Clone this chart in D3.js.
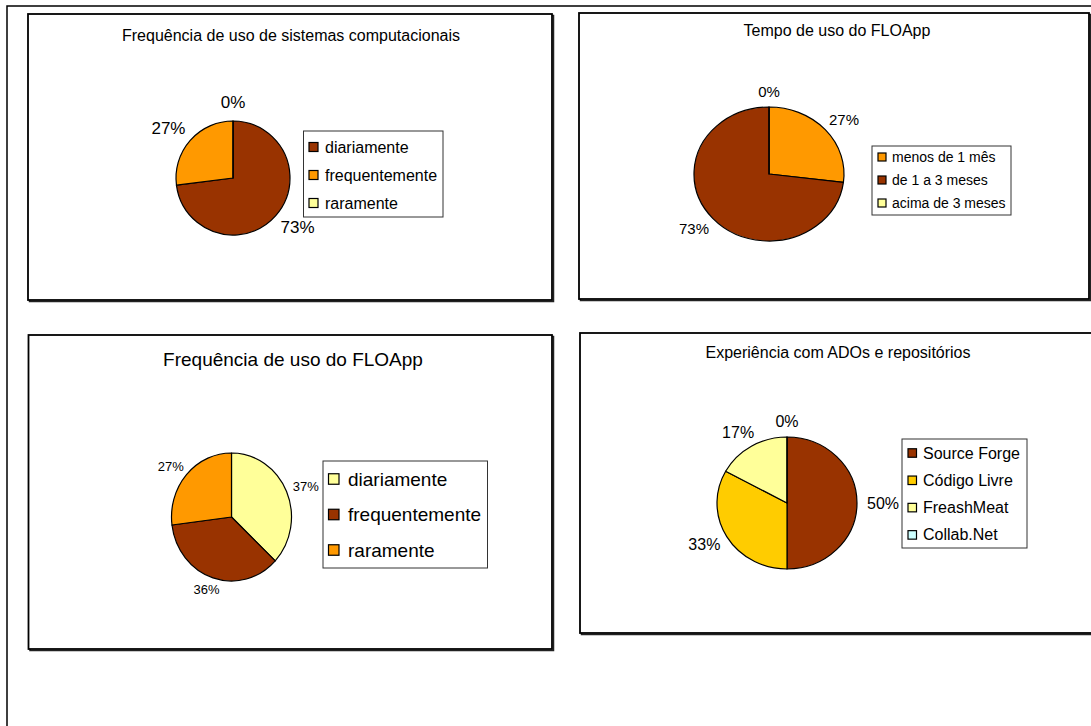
<!DOCTYPE html>
<html>
<head>
<meta charset="utf-8">
<script src="https://cdn.jsdelivr.net/npm/d3@7"></script>
<style>
  html, body { margin: 0; padding: 0; background: #fff; }
  svg { display: block; font-family: "Liberation Sans", Arial, sans-serif; }
</style>
</head>
<body>
<svg id="chart" width="1091" height="726"></svg>
<script>
// ---- data ----
const sistemasTitle = "Frequência de uso de sistemas computacionais";
const sistemasCategories = ["diariamente", "frequentemente", "raramente"];
const sistemasValues = [73, 27, 0];

const tempoTitle = "Tempo de uso do FLOApp";
const tempoCategories = ["menos de 1 mês", "de 1 a 3 meses", "acima de 3 meses"];
const tempoValues = [27, 73, 0];

const freqTitle = "Frequência de uso do FLOApp";
const freqCategories = ["diariamente", "frequentemente", "raramente"];
const freqValues = [37, 36, 27];

const expTitle = "Experiência com ADOs e repositórios";
const expCategories = ["Source Forge", "Código Livre", "FreashMeat", "Collab.Net"];
const expValues = [50, 33, 17, 0];

// ---- palette ----
const BROWN = "#993300", ORANGE = "#FF9900", PALE = "#FFFF99", GOLD = "#FFCC00", CYAN = "#CCFFFF";

// ---- panel layout ----
const panels = [
  {
    title: sistemasTitle, categories: sistemasCategories, values: sistemasValues,
    colors: [BROWN, ORANGE, PALE],
    box: [28, 14, 552, 300],
    titlePos: { x: 291, y: 35, size: 16 },
    pie: { cx: 233, cy: 178, rx: 57, ry: 57 },
    label: { size: 17, pad: 12 },
    legend: { x: 303.5, y: 131, w: 139.5, h: 86, row0: 16, step: 28, swX: 5.5, sw: 9, textX: 21.5, size: 16 }
  },
  {
    title: tempoTitle, categories: tempoCategories, values: tempoValues,
    colors: [ORANGE, BROWN, PALE],
    box: [579, 13, 1089, 299],
    titlePos: { x: 837, y: 30, size: 16 },
    pie: { cx: 769, cy: 174, rx: 75, ry: 67 },
    label: { size: 15, pad: 10 },
    legend: { x: 872, y: 146, w: 139, h: 69, row0: 11, step: 23, swX: 6, sw: 8, textX: 20, size: 14 }
  },
  {
    title: freqTitle, categories: freqCategories, values: freqValues,
    colors: [PALE, BROWN, ORANGE],
    box: [28.5, 335, 552, 649],
    titlePos: { x: 293, y: 359, size: 19 },
    pie: { cx: 231.5, cy: 517, rx: 60, ry: 64 },
    label: { size: 13, pad: 8 },
    legend: { x: 323, y: 461, w: 164.5, h: 107, row0: 18, step: 35.5, swX: 5.5, sw: 10.5, textX: 25, size: 19 }
  },
  {
    title: expTitle, categories: expCategories, values: expValues,
    colors: [BROWN, GOLD, PALE, CYAN],
    box: [580, 333, 1096, 633],
    titlePos: { x: 838, y: 352, size: 16 },
    pie: { cx: 787, cy: 503, rx: 70, ry: 66 },
    label: { size: 16, pad: 10 },
    legend: { x: 902, y: 439, w: 125, h: 109, row0: 14, step: 27.3, swX: 6, sw: 8.5, textX: 21, size: 16 }
  }
];

const svg = d3.select("#chart");

// page frame (top and left rules)
svg.append("path")
  .attr("d", "M7,726 V6 H1091")
  .attr("fill", "none").attr("stroke", "#000").attr("stroke-width", 1.5);

const pie = d3.pie().sort(null).value(d => d.value);

panels.forEach(p => {
  const g = svg.append("g");
  const [x0, y0, x1, y1] = p.box;

  // chart area border with a thin drop shadow
  g.append("rect")
    .attr("x", x0 + 1.5).attr("y", y0 + 1.5)
    .attr("width", x1 - x0).attr("height", y1 - y0)
    .attr("fill", "none").attr("stroke", "#222").attr("stroke-width", 1.5);
  g.append("rect")
    .attr("x", x0).attr("y", y0)
    .attr("width", x1 - x0).attr("height", y1 - y0)
    .attr("fill", "#fff").attr("stroke", "#000").attr("stroke-width", 1.8);

  // title
  g.append("text")
    .attr("x", p.titlePos.x).attr("y", p.titlePos.y)
    .attr("text-anchor", "middle").attr("dominant-baseline", "central")
    .attr("font-size", p.titlePos.size).attr("fill", "#000")
    .text(p.title);

  const data = p.categories.map((c, i) => ({ name: c, value: p.values[i], color: p.colors[i] }));
  const arcs = pie(data);
  const arc = d3.arc().innerRadius(0).outerRadius(p.pie.ry);

  // slices (drawn on a circle, then stretched horizontally into the ellipse)
  const pg = g.append("g")
    .attr("transform", `translate(${p.pie.cx},${p.pie.cy}) scale(${p.pie.rx / p.pie.ry},1)`);
  pg.selectAll("path")
    .data(arcs)
    .join("path")
    .attr("d", arc)
    .attr("fill", d => d.data.color)
    .attr("stroke", "#000")
    .attr("stroke-width", 1.2)
    .attr("stroke-linejoin", "round")
    .attr("vector-effect", "non-scaling-stroke");

  // percentage labels outside the rim
  arcs.forEach(a => {
    const mid = (a.startAngle + a.endAngle) / 2;
    const s = Math.sin(mid), c = Math.cos(mid);
    const t = g.append("text")
      .attr("text-anchor", "middle").attr("dominant-baseline", "central")
      .attr("font-size", p.label.size).attr("fill", "#000")
      .text(a.data.value + "%");
    const w = t.node().getComputedTextLength();
    const h = p.label.size * 0.72;
    const lx = p.pie.cx + s * (p.pie.rx + p.label.pad) + s * w / 2;
    const ly = p.pie.cy - c * (p.pie.ry + p.label.pad) - c * h / 2;
    t.attr("x", lx).attr("y", ly);
  });

  // legend
  const L = p.legend;
  const lg = g.append("g").attr("transform", `translate(${L.x},${L.y})`);
  lg.append("rect")
    .attr("width", L.w).attr("height", L.h)
    .attr("fill", "#fff").attr("stroke", "#333").attr("stroke-width", 1);
  const rows = lg.selectAll("g.row")
    .data(data)
    .join("g")
    .attr("class", "row")
    .attr("transform", (d, i) => `translate(0,${L.row0 + i * L.step})`);
  rows.append("rect")
    .attr("x", L.swX).attr("y", -L.sw / 2)
    .attr("width", L.sw).attr("height", L.sw)
    .attr("fill", d => d.color).attr("stroke", "#000").attr("stroke-width", 1.2);
  rows.append("text")
    .attr("x", L.textX).attr("y", 0)
    .attr("dominant-baseline", "central")
    .attr("font-size", L.size).attr("fill", "#000")
    .text(d => d.name);
});
</script>
</body>
</html>
